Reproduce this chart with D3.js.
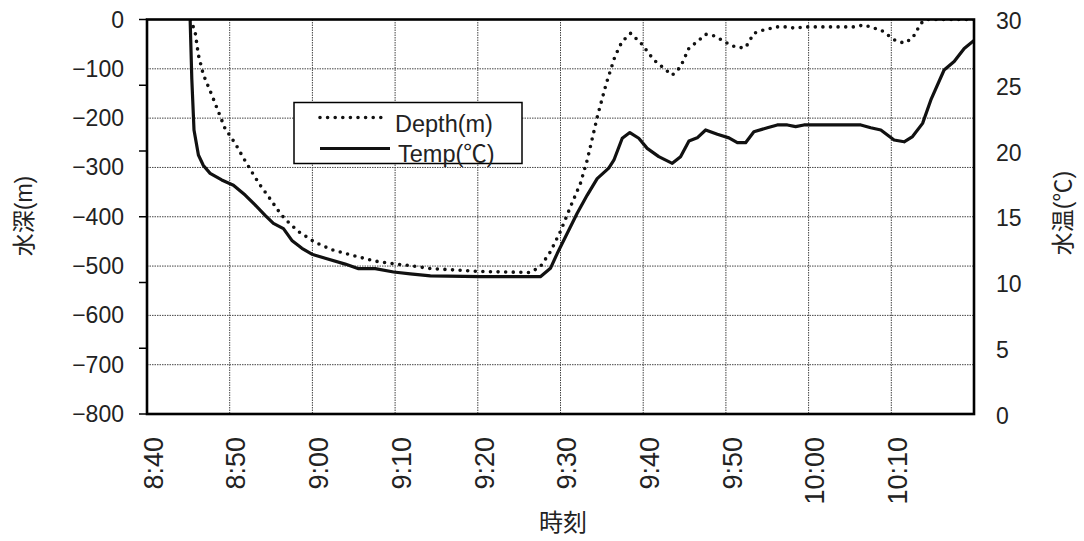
<!DOCTYPE html>
<html>
<head>
<meta charset="utf-8">
<script src="https://cdn.jsdelivr.net/npm/d3@7"></script>
<style>
  html, body { margin: 0; padding: 0; background: #fff; }
  svg { display: block; font-family: "Liberation Sans", "Noto Sans CJK JP", sans-serif; }
</style>
</head>
<body>
<svg id="chart" width="1084" height="541"></svg>
<script>
const timeTicks = ["8:40", "8:50", "9:00", "9:10", "9:20", "9:30", "9:40", "9:50", "10:00", "10:10"];
const depthTicks = [0, -100, -200, -300, -400, -500, -600, -700, -800];
const tempTicks = [0, 5, 10, 15, 20, 25, 30];

const depthTimes = [
    "8:45:16", "8:45:49", "8:46:13", "8:46:49", "8:47:50", "8:48:38", "8:49:26", "8:50:39",
    "8:51:40", "8:52:40", "8:53:41", "8:54:41", "8:56:06", "8:56:42", "8:58:19", "9:00:20",
    "9:02:22", "9:04:47", "9:07:36", "9:09:37", "9:11:50", "9:14:16", "9:20:19", "9:26:22",
    "9:27:34", "9:28:47", "9:29:59", "9:31:12", "9:32:25", "9:33:14", "9:34:30", "9:35:33",
    "9:36:35", "9:37:26", "9:38:29", "9:39:44", "9:41:17", "9:42:30", "9:43:31", "9:44:31",
    "9:45:32", "9:46:32", "9:47:33", "9:48:33", "9:49:34", "9:50:34", "9:51:23", "9:52:23",
    "9:53:23", "9:54:36", "9:56:13", "9:57:26", "9:58:26", "9:59:26", "10:03:29", "10:05:30",
    "10:06:43", "10:07:44", "10:08:44", "10:09:32", "10:10:20", "10:11:33", "10:12:34", "10:13:34",
    "10:14:11", "10:20:00"
];
const depthValues = [
    0, -25, -72, -112, -153, -187, -221, -251,
    -281, -309, -336, -359, -393, -405, -430, -452,
    -467, -478, -490, -495, -499, -505, -511, -513,
    -501, -471, -430, -380, -332, -285, -194, -129,
    -75, -45, -28, -48, -82, -99, -113, -96,
    -58, -45, -30, -33, -42, -52, -57, -57,
    -28, -21, -15, -15, -18, -15, -15, -15,
    -11, -17, -21, -31, -41, -48, -38, -8,
    0, 0
];

const tempTimes = [
    "8:45:13", "8:45:25", "8:45:41", "8:46:13", "8:46:49", "8:47:38", "8:49:02", "8:50:27",
    "8:51:52", "8:53:04", "8:54:17", "8:55:17", "8:56:30", "8:57:31", "8:58:44", "8:59:56",
    "9:01:33", "9:03:58", "9:05:35", "9:07:36", "9:09:49", "9:11:50", "9:14:16", "9:20:19",
    "9:27:34", "9:28:47", "9:29:36", "9:30:49", "9:32:01", "9:33:14", "9:34:26", "9:35:50",
    "9:36:27", "9:37:28", "9:38:23", "9:39:28", "9:40:29", "9:41:53", "9:43:31", "9:44:31",
    "9:45:32", "9:46:32", "9:47:33", "9:48:58", "9:50:22", "9:51:23", "9:52:23", "9:53:23",
    "9:55:01", "9:56:13", "9:57:26", "9:58:26", "9:59:26", "10:06:19", "10:07:31", "10:08:44",
    "10:10:20", "10:11:33", "10:12:34", "10:13:47", "10:14:47", "10:16:23", "10:17:36", "10:18:49",
    "10:20:00"
];
const tempValues = [
    30.0, 25.5, 21.6, 19.7, 18.9, 18.3, 17.8, 17.4,
    16.65, 15.9, 15.1, 14.5, 14.1, 13.2, 12.6, 12.15,
    11.84, 11.4, 11.05, 11.05, 10.8, 10.65, 10.5, 10.44,
    10.44, 11.08, 12.2, 13.74, 15.26, 16.65, 17.9, 18.7,
    19.3, 20.97, 21.4, 20.97, 20.2, 19.57, 19.06, 19.57,
    20.76, 21.0, 21.6, 21.27, 21.0, 20.63, 20.63, 21.47,
    21.77, 21.98, 21.98, 21.85, 21.98, 21.98, 21.77, 21.6,
    20.84, 20.7, 21.1, 22.1, 23.88, 26.16, 26.8, 27.8,
    28.4
];

const svg = d3.select("#chart");
const margin = { top: 19.5, right: 110, bottom: 127, left: 147 };
const width = 1084;
const height = 541;

const parseTime = d3.timeParse("%H:%M:%S");
const parseTick = d3.timeParse("%H:%M");

const x = d3.scaleTime()
    .domain([parseTick("8:40"), parseTick("10:20")])
    .range([margin.left, width - margin.right]);

const yDepth = d3.scaleLinear()
    .domain([-800, 0])
    .range([height - margin.bottom, margin.top]);

const yTemp = d3.scaleLinear()
    .domain([0, 30])
    .range([height - margin.bottom, margin.top]);

const depthData = depthTimes.map((t, i) => ({ t: parseTime(t), v: depthValues[i] }));
const tempData = tempTimes.map((t, i) => ({ t: parseTime(t), v: tempValues[i] }));

const plotW = width - margin.right - margin.left;
const plotH = height - margin.bottom - margin.top;

svg.append("clipPath")
    .attr("id", "plot-clip")
    .append("rect")
    .attr("x", margin.left)
    .attr("y", margin.top)
    .attr("width", plotW)
    .attr("height", plotH);

// gridlines
const grid = svg.append("g")
    .attr("stroke", "#444")
    .attr("stroke-width", 1)
    .attr("stroke-dasharray", "1.5,1");

grid.selectAll("line.h")
    .data(depthTicks)
    .enter()
    .append("line")
    .attr("class", "h")
    .attr("x1", margin.left)
    .attr("x2", width - margin.right)
    .attr("y1", d => yDepth(d))
    .attr("y2", d => yDepth(d));

grid.selectAll("line.v")
    .data(timeTicks)
    .enter()
    .append("line")
    .attr("class", "v")
    .attr("x1", d => x(parseTick(d)))
    .attr("x2", d => x(parseTick(d)))
    .attr("y1", margin.top)
    .attr("y2", height - margin.bottom);

// lines
const line = (scale) => d3.line()
    .x(d => x(d.t))
    .y(d => scale(d.v));

const lines = svg.append("g").attr("clip-path", "url(#plot-clip)");

lines.append("path")
    .datum(depthData)
    .attr("fill", "none")
    .attr("stroke", "#111")
    .attr("stroke-width", 3.6)
    .attr("stroke-linecap", "round")
    .attr("stroke-dasharray", "0,7.6")
    .attr("d", line(yDepth));

lines.append("path")
    .datum(tempData)
    .attr("fill", "none")
    .attr("stroke", "#111")
    .attr("stroke-width", 3.2)
    .attr("stroke-linejoin", "round")
    .attr("d", line(yTemp));

// plot border
svg.append("rect")
    .attr("x", margin.left)
    .attr("y", margin.top)
    .attr("width", plotW)
    .attr("height", plotH)
    .attr("fill", "none")
    .attr("stroke", "#000")
    .attr("stroke-width", 2.6);

// left axis ticks (sit at the temperature steps)
svg.append("g")
    .selectAll("line")
    .data(tempTicks)
    .enter()
    .append("line")
    .attr("x1", margin.left - 8)
    .attr("x2", margin.left)
    .attr("y1", d => yTemp(d))
    .attr("y2", d => yTemp(d))
    .attr("stroke", "#000")
    .attr("stroke-width", 1.5);

// axis labels
svg.append("g")
    .selectAll("text")
    .data(depthTicks)
    .enter()
    .append("text")
    .attr("x", 124)
    .attr("y", d => yDepth(d))
    .attr("dy", "0.35em")
    .attr("text-anchor", "end")
    .attr("font-size", 23)
    .attr("fill", "#222")
    .text(d => d3.format("d")(d).replace("-", "\u2212"));

svg.append("g")
    .selectAll("text")
    .data(tempTicks)
    .enter()
    .append("text")
    .attr("x", 996)
    .attr("y", d => yTemp(d) + 1.5)
    .attr("dy", "0.35em")
    .attr("text-anchor", "start")
    .attr("font-size", 23)
    .attr("fill", "#222")
    .text(d => d);

svg.append("g")
    .selectAll("text")
    .data(timeTicks)
    .enter()
    .append("text")
    .attr("transform", d => `translate(${x(parseTick(d)) + 6}, 437) rotate(-90)`)
    .attr("dy", "0.36em")
    .attr("text-anchor", "end")
    .attr("font-size", 27)
    .attr("fill", "#222")
    .text(d => d);

// axis titles
svg.append("text")
    .attr("x", 563)
    .attr("y", 523)
    .attr("dy", "0.35em")
    .attr("text-anchor", "middle")
    .attr("font-size", 24)
    .attr("fill", "#222")
    .text("時刻");

svg.append("text")
    .attr("transform", "translate(24, 216) rotate(-90)")
    .attr("dy", "0.35em")
    .attr("text-anchor", "middle")
    .attr("font-size", 23)
    .attr("fill", "#222")
    .text("水深(m)");

svg.append("text")
    .attr("transform", "translate(1063, 213) rotate(-90)")
    .attr("dy", "0.35em")
    .attr("text-anchor", "middle")
    .attr("font-size", 23)
    .attr("fill", "#222")
    .text("水温(℃)");

// legend
const legendData = [
    { label: "Depth(m)", dash: "0,7.6", width: 3.6, x2: 383 },
    { label: "Temp(℃)", dash: null, width: 3.2, x2: 390 }
];

const legend = svg.append("g");

legend.append("rect")
    .attr("x", 294)
    .attr("y", 102.5)
    .attr("width", 228)
    .attr("height", 61)
    .attr("fill", "#fff")
    .attr("stroke", "#000")
    .attr("stroke-width", 1.5);

legend.selectAll("line")
    .data(legendData)
    .enter()
    .append("line")
    .attr("x1", 320)
    .attr("x2", d => d.x2)
    .attr("y1", (d, i) => 117.5 + i * 31)
    .attr("y2", (d, i) => 117.5 + i * 31)
    .attr("stroke", "#111")
    .attr("stroke-width", d => d.width)
    .attr("stroke-linecap", d => d.dash ? "round" : "butt")
    .attr("stroke-dasharray", d => d.dash);

legend.selectAll("text")
    .data(legendData)
    .enter()
    .append("text")
    .attr("x", (d, i) => 395 + i * 3)
    .attr("y", (d, i) => 131.5 + i * 30)
    .attr("font-size", 23.5)
    .attr("fill", "#222")
    .text(d => d.label);
</script>
</body>
</html>
